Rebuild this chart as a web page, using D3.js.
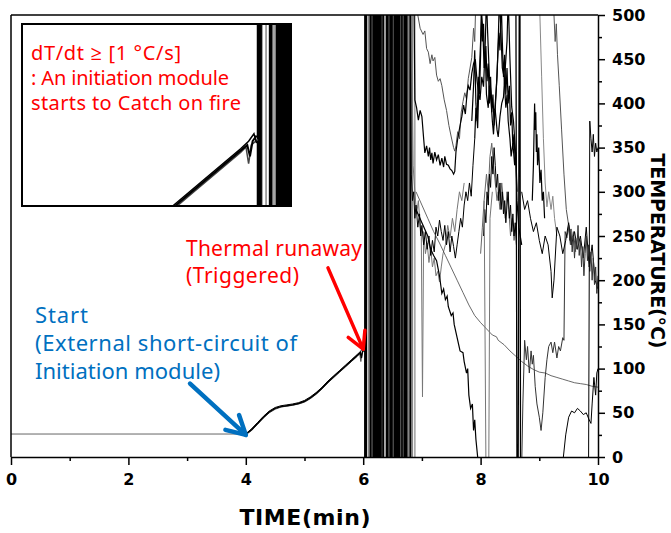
<!DOCTYPE html>
<html>
<head>
<meta charset="utf-8">
<script src="https://cdn.jsdelivr.net/npm/d3@7"></script>
<style>
  body { margin: 0; background: #fff; }
  .chart-holder svg { display: block; }
</style>
</head>
<body>
<div class="chart-holder"></div>
<script>
// temperature traces, [time (min), temperature (°C)]
const preTest = [[0, 26], [4, 26]];

const riseA = [[4.0, 26], [4.1, 31], [4.2, 38], [4.3, 45], [4.4, 51], [4.5, 55], [4.6, 57], [4.7, 58], [4.8, 59],
  [4.9, 60.5], [5.0, 63], [5.1, 67], [5.2, 72], [5.3, 78], [5.4, 85], [5.5, 91], [5.6, 97], [5.7, 103], [5.8, 109],
  [5.9, 115], [5.95, 118], [5.97, 112], [5.99, 120], [6.02, 123]];
const riseB = [[4.0, 25], [4.1, 30], [4.2, 37], [4.3, 44], [4.4, 50], [4.5, 54], [4.6, 56.5], [4.7, 57.5], [4.8, 58.5],
  [4.9, 60], [5.0, 62], [5.1, 66], [5.2, 71], [5.3, 77], [5.4, 84], [5.5, 90], [5.6, 96], [5.7, 102], [5.8, 108],
  [5.9, 114], [5.94, 117], [5.96, 108], [5.98, 118], [6.03, 121]];
const riseC = [[4.0, 26], [4.1, 32], [4.2, 39], [4.3, 46], [4.4, 52], [4.5, 56], [4.6, 58], [4.7, 59], [4.8, 60],
  [4.9, 61.5], [5.0, 64], [5.1, 68], [5.2, 73], [5.3, 79], [5.4, 86], [5.5, 92], [5.6, 98], [5.7, 104], [5.8, 110],
  [5.9, 116], [5.96, 120], [6.0, 124], [6.02, 119]];

// thermocouples swinging full scale after the trigger
const blackSpikeTimes = [6.03, 6.04, 6.05, 6.12, 6.13, 6.17, 6.18, 6.19, 6.2, 6.21, 6.22, 6.23, 6.24, 6.25, 6.26, 6.27,
  6.28, 6.3, 6.34, 6.4, 6.42, 6.46, 6.49, 6.53, 6.56, 6.57, 6.58, 6.59, 6.6, 6.61, 6.62, 6.66, 6.7, 6.72, 6.74, 6.8];
const graySpikeTimes = [6.06, 6.09, 6.15, 6.31, 6.33, 6.37, 6.45, 6.51, 6.55, 6.64, 6.68, 6.76, 6.77, 6.82, 6.84, 6.88];

const seriesA = [[6.9, 560], [6.93, 500], [6.97, 485], [7.02, 478], [7.05, 482], [7.08, 462], [7.11, 458], [7.14, 445],
  [7.17, 455], [7.19, 448], [7.22, 452], [7.25, 432], [7.28, 425], [7.31, 428], [7.34, 420], [7.38, 404], [7.42, 392],
  [7.46, 375], [7.5, 362], [7.54, 350], [7.56, 346], [7.58, 352], [7.61, 368], [7.64, 360], [7.67, 390], [7.7, 402],
  [7.73, 412], [7.76, 405], [7.79, 428], [7.82, 440], [7.85, 452], [7.88, 485], [7.9, 470], [7.92, 520], [7.95, 560]];
const seriesB = [[6.86, 560], [6.88, 404], [6.91, 395], [6.94, 381], [6.97, 392], [7.0, 385], [7.03, 360], [7.05, 344],
  [7.08, 352], [7.11, 340], [7.13, 350], [7.15, 336], [7.17, 344], [7.19, 332], [7.22, 345], [7.25, 336], [7.28, 342],
  [7.31, 330], [7.34, 338], [7.37, 328], [7.39, 340], [7.42, 331], [7.45, 330], [7.48, 326], [7.51, 324], [7.54, 320],
  [7.56, 323], [7.58, 345], [7.61, 360], [7.65, 375], [7.68, 385], [7.71, 398], [7.74, 388], [7.77, 412], [7.79, 420],
  [7.82, 415], [7.85, 434], [7.88, 445], [7.91, 450], [7.94, 425], [7.97, 410], [7.99, 404], [8.02, 430], [8.05, 419],
  [8.08, 470], [8.1, 520], [8.12, 480], [8.15, 430], [8.18, 410], [8.21, 395], [8.25, 392], [8.28, 370], [8.3, 362],
  [8.33, 385], [8.36, 400], [8.39, 407], [8.42, 440], [8.45, 470], [8.47, 520], [8.5, 450], [8.53, 396], [8.56, 380],
  [8.58, 360], [8.6, 340], [8.62, 290], [8.65, 260], [8.7, 240]];
const seriesL = [[7.85, 380], [7.88, 420], [7.9, 460], [7.92, 400], [7.95, 372], [7.97, 420], [8.0, 470], [8.02, 500],
  [8.04, 480], [8.06, 440], [8.08, 455], [8.1, 410], [8.13, 395], [8.15, 420], [8.18, 400], [8.2, 380], [8.22, 365],
  [8.25, 400], [8.28, 430], [8.3, 470], [8.32, 520], [8.34, 490], [8.37, 440], [8.4, 430], [8.43, 395], [8.45, 410],
  [8.47, 380], [8.5, 360], [8.52, 340], [8.55, 355], [8.58, 330], [8.6, 345], [8.62, 300]];
const seriesP = [[7.9, 360], [7.92, 395], [7.94, 380], [7.96, 430], [7.98, 410], [8.0, 455], [8.01, 500], [8.03, 470],
  [8.05, 490], [8.07, 440], [8.09, 465], [8.11, 425], [8.13, 445], [8.15, 400], [8.17, 430], [8.19, 390], [8.21, 410],
  [8.23, 375], [8.25, 395], [8.27, 420], [8.29, 450], [8.31, 480], [8.33, 460], [8.35, 520], [8.37, 470], [8.39, 430],
  [8.41, 455], [8.43, 410], [8.45, 440], [8.47, 400], [8.49, 420], [8.51, 375], [8.53, 390], [8.55, 350], [8.57, 365],
  [8.59, 330]];
const seriesM = [[8.0, 230], [8.03, 260], [8.06, 290], [8.1, 320], [8.13, 300], [8.16, 340], [8.19, 355], [8.22, 330],
  [8.25, 310], [8.28, 290], [8.3, 300], [8.33, 280], [8.36, 310], [8.39, 290], [8.42, 270], [8.45, 300], [8.48, 280],
  [8.51, 250], [8.54, 270], [8.57, 245], [8.6, 260]];
const seriesQ = [[8.05, 250], [8.07, 280], [8.09, 265], [8.11, 300], [8.13, 285], [8.15, 320], [8.17, 305], [8.19, 340],
  [8.21, 320], [8.23, 350], [8.25, 330], [8.27, 305], [8.29, 320], [8.31, 290], [8.33, 310], [8.35, 280], [8.37, 300],
  [8.39, 275], [8.41, 290], [8.43, 265], [8.45, 285], [8.47, 300], [8.49, 270], [8.51, 285], [8.53, 255], [8.55, 275],
  [8.57, 250], [8.59, 265], [8.61, 240]];
const seriesC = [[6.8, 560], [6.82, 320], [6.84, 290], [6.86, 300], [6.88, 270], [6.9, 285], [6.93, 260], [6.96, 275],
  [6.98, 250], [7.0, 262], [7.03, 240], [7.06, 255], [7.09, 235], [7.12, 250], [7.15, 228], [7.18, 245], [7.21, 232],
  [7.24, 260], [7.27, 250], [7.3, 268], [7.33, 255], [7.36, 245], [7.39, 262], [7.42, 240], [7.45, 255], [7.48, 232],
  [7.51, 250], [7.54, 238], [7.57, 225], [7.6, 240], [7.63, 255], [7.66, 270], [7.69, 260], [7.72, 285], [7.75, 300],
  [7.78, 290], [7.81, 310], [7.84, 295], [7.87, 330], [7.9, 360]];
const seriesC2 = [[6.82, 500], [6.85, 330], [6.88, 300], [6.91, 275], [6.94, 290], [6.97, 262], [6.99, 250], [7.01, 68],
  [7.03, 255], [7.06, 230], [7.09, 242], [7.12, 220], [7.15, 236], [7.18, 215], [7.21, 225], [7.24, 205], [7.27, 210],
  [7.3, 198], [7.33, 215], [7.36, 230], [7.4, 240], [7.44, 262], [7.48, 248], [7.52, 270], [7.56, 255], [7.6, 280],
  [7.64, 300], [7.68, 290], [7.72, 310]];
const coolingD = [[6.9, 300], [7.0, 285], [7.1, 270], [7.2, 255], [7.3, 242], [7.4, 228], [7.5, 214], [7.6, 200],
  [7.7, 186], [7.8, 172], [7.9, 160], [8.0, 152], [8.1, 145], [8.2, 138], [8.27, 136], [8.3, 132], [8.4, 127],
  [8.5, 120], [8.6, 114], [8.7, 108], [8.8, 103], [8.9, 99], [9.0, 96], [9.1, 95], [9.2, 92], [9.3, 90], [9.4, 88],
  [9.5, 86], [9.6, 84], [9.7, 83], [9.8, 82], [9.9, 80], [10.0, 79]];
const seriesE = [[6.9, 280], [7.0, 265], [7.1, 250], [7.15, 235], [7.2, 228], [7.25, 222], [7.3, 205], [7.34, 185],
  [7.37, 190], [7.4, 178], [7.43, 182], [7.45, 170], [7.5, 160], [7.53, 163], [7.55, 150], [7.6, 135], [7.65, 120],
  [7.7, 118], [7.72, 108], [7.76, 95], [7.78, 100], [7.8, 70], [7.83, 55], [7.86, 60], [7.88, 30], [7.9, 42],
  [7.92, 20], [7.95, 0], [7.97, -20]];
const grayDrop = [[8.06, 290], [8.09, 0], [8.12, -20], [8.14, 0], [8.16, 270], [8.2, 300]];
const seriesN = [[8.6, 560], [8.62, -20], [8.64, -20], [8.66, 560], [8.67, 560], [8.68, -20]];
const seriesF = [[8.7, -10], [8.72, 60], [8.75, 132], [8.78, 110], [8.8, 125], [8.83, 95], [8.86, 120], [8.88, 105],
  [8.9, 115], [8.93, 80], [8.96, 60], [9.0, 45], [9.03, 30], [9.06, 50], [9.1, 90], [9.13, 110], [9.16, 125],
  [9.2, 130], [9.23, 118], [9.26, 130], [9.3, 112], [9.33, 125], [9.36, 120], [9.4, 135], [9.42, 132], [9.44, 255],
  [9.47, 248], [9.5, 262], [9.53, 240]];
const seriesR = [[8.88, 290], [8.9, 330], [8.92, 400], [8.93, 370], [8.94, 390], [8.95, 345], [8.96, 365], [8.97, 330],
  [8.99, 350], [9.01, 310], [9.03, 325], [9.05, 290], [9.07, 300], [9.09, 270]];
const seriesI = [[8.98, 560], [9.01, 500], [9.04, 430], [9.07, 360], [9.1, 310], [9.13, 283], [9.16, 300], [9.2, 280],
  [9.23, 295], [9.26, 270], [9.3, 250]];
const seriesJ = [[9.22, 560], [9.25, 500], [9.27, 470], [9.29, 490], [9.31, 455], [9.34, 420], [9.38, 370], [9.42, 320],
  [9.46, 280], [9.5, 262], [9.54, 240], [9.58, 255], [9.62, 232]];
const seriesH = [[8.7, 300], [8.75, 280], [8.8, 290], [8.85, 270], [8.9, 255], [8.95, 265], [9.0, 245], [9.05, 230],
  [9.1, 250], [9.15, 240], [9.2, 210], [9.22, 180], [9.25, 200], [9.3, 260], [9.35, 250], [9.4, 230], [9.45, 245],
  [9.5, 265], [9.55, 240], [9.6, 255], [9.65, 235], [9.7, 250], [9.75, 225], [9.8, 260], [9.85, 215], [9.9, 240],
  [9.95, 200], [10.0, 190]];
const seriesH2 = [[9.5, 262], [9.52, 245], [9.54, 258], [9.56, 232], [9.58, 250], [9.6, 225], [9.62, 248], [9.64, 235],
  [9.66, 262], [9.68, 228], [9.7, 245], [9.72, 215], [9.74, 238], [9.76, 205], [9.78, 230], [9.8, 250], [9.82, 222],
  [9.84, 240], [9.86, 210], [9.88, 232], [9.9, 200], [9.92, 225], [9.94, 195], [9.96, 215], [9.98, 185], [10.0, 205]];
const seriesK = [[9.84, 0], [9.86, 380], [9.88, 360], [9.9, 345], [9.92, 365], [9.94, 340], [9.96, 355], [9.98, 345],
  [10.0, 350]];
const seriesG = [[9.41, 0], [9.45, 25], [9.5, 45], [9.55, 52], [9.6, 50], [9.65, 55], [9.7, 52], [9.75, 48], [9.8, 50],
  [9.85, 42], [9.88, 38], [9.9, 60], [9.93, 90], [9.96, 70], [9.98, 95], [10.0, 100]];

const xTicks = [0, 2, 4, 6, 8, 10];
const xMinorTicks = [1, 3, 5, 7, 9];
const yTicks = [0, 50, 100, 150, 200, 250, 300, 350, 400, 450, 500];
const yMinorTicks = [25, 75, 125, 175, 225, 275, 325, 375, 425, 475];

const insetNote = ["dT/dt \u2265 [1 \u00b0C/s]", ": An initiation module", "starts to Catch on fire"];
const runawayNote = ["Thermal runaway", "(Triggered)"];
const startNote = ["Start", "(External short-circuit of", "Initiation module)"];

const width = 671;
const height = 533;

const svg = d3.select(".chart-holder")
  .append("svg")
  .attr("width", width)
  .attr("height", height);

const x = d3.scaleLinear().domain([0, 10]).range([11, 598]);
const y = d3.scaleLinear().domain([0, 500]).range([457, 15]);

// full scale swing, built from the spike times
function spikes(times) {
  const out = [];
  times.forEach((t, i) => {
    const lo = -40, hi = 560;
    if (i % 2 === 0) { out.push([t, lo]); out.push([t + 0.001, hi]); }
    else { out.push([t, hi]); out.push([t + 0.001, lo]); }
  });
  return out;
}

const traces = [
  { d: preTest, c: "#666", w: 1 },
  { d: spikes(graySpikeTimes), c: "#888", w: 1.2 },
  { d: spikes(blackSpikeTimes), c: "#000", w: 1.8 },
  { d: riseB, c: "#555", w: 1 },
  { d: riseC, c: "#000", w: 1 },
  { d: riseA, c: "#000", w: 1.5 },
  { d: seriesC2, c: "#777", w: 1 },
  { d: seriesC, c: "#000", w: 1 },
  { d: seriesA, c: "#555", w: 1 },
  { d: seriesB, c: "#000", w: 1.2 },
  { d: seriesL, c: "#000", w: 1.2 },
  { d: seriesP, c: "#000", w: 1.2 },
  { d: seriesM, c: "#666", w: 1 },
  { d: seriesQ, c: "#000", w: 1 },
  { d: coolingD, c: "#444", w: 0.8 },
  { d: seriesE, c: "#000", w: 1.2 },
  { d: grayDrop, c: "#777", w: 1 },
  { d: seriesN, c: "#000", w: 1.3 },
  { d: seriesF, c: "#333", w: 1 },
  { d: seriesR, c: "#000", w: 1.2 },
  { d: seriesI, c: "#888", w: 1 },
  { d: seriesJ, c: "#555", w: 1 },
  { d: seriesH, c: "#000", w: 1 },
  { d: seriesH2, c: "#333", w: 1 },
  { d: seriesK, c: "#000", w: 1 },
  { d: seriesG, c: "#000", w: 1 }
];

const defs = svg.append("defs");
defs.append("clipPath").attr("id", "plot-clip")
  .append("rect").attr("x", 11).attr("y", 15).attr("width", 587).attr("height", 442);
defs.append("clipPath").attr("id", "inset-clip")
  .append("rect").attr("x", 23).attr("y", 25).attr("width", 267).attr("height", 180);

const line = d3.line().x(d => x(d[0])).y(d => y(d[1]));

svg.append("g")
  .attr("clip-path", "url(#plot-clip)")
  .selectAll("path")
  .data(traces)
  .join("path")
  .attr("d", d => line(d.d))
  .attr("fill", "none")
  .attr("stroke", d => d.c)
  .attr("stroke-width", d => d.w);

// frame and axes
svg.append("line").attr("x1", 11).attr("x2", 598).attr("y1", 15).attr("y2", 15)
  .attr("stroke", "#000").attr("stroke-width", 1.5);
svg.append("line").attr("x1", 11).attr("x2", 11).attr("y1", 15).attr("y2", 457)
  .attr("stroke", "#000").attr("stroke-width", 1.5);

const axisFont = "'DejaVu Sans', Verdana, sans-serif";

svg.append("g").attr("transform", `translate(0,${y(0)})`)
  .call(d3.axisBottom(x).tickValues(xTicks).tickSize(8).tickPadding(9).tickSizeOuter(0));
svg.append("g").attr("transform", `translate(0,${y(0)})`)
  .call(d3.axisBottom(x).tickValues(xMinorTicks).tickSize(4).tickFormat("").tickSizeOuter(0))
  .select(".domain").remove();

svg.append("g").attr("transform", `translate(${x(10)},0)`)
  .call(d3.axisRight(y).tickValues(yTicks).tickSize(7).tickPadding(7).tickSizeOuter(0));
svg.append("g").attr("transform", `translate(${x(10)},0)`)
  .call(d3.axisRight(y).tickValues(yMinorTicks).tickSize(4).tickFormat("").tickSizeOuter(0))
  .select(".domain").remove();

svg.selectAll(".domain, .tick line").attr("stroke", "#000").attr("stroke-width", 1.5);
svg.selectAll(".tick text")
  .attr("font-family", axisFont)
  .attr("font-weight", "bold")
  .attr("font-size", 16)
  .attr("fill", "#000");

svg.append("text")
  .attr("x", 305).attr("y", 525)
  .attr("text-anchor", "middle")
  .attr("font-family", axisFont).attr("font-weight", "bold").attr("font-size", 22)
  .attr("textLength", 131).attr("lengthAdjust", "spacing")
  .text("TIME(min)");

svg.append("text")
  .attr("transform", "translate(651,251) rotate(90)")
  .attr("text-anchor", "middle")
  .attr("font-family", axisFont).attr("font-weight", "bold").attr("font-size", 19)
  .attr("textLength", 195).attr("lengthAdjust", "spacing")
  .text("TEMPERATURE(\u00b0C)");

// zoomed inset around the trigger
const xi = d3.scaleLinear().domain([4.27, 6.27]).range([23, 290]);
const yi = d3.scaleLinear().domain([86, 182]).range([205, 25]);
const lineInset = d3.line().x(d => xi(d[0])).y(d => yi(d[1]));

svg.append("rect")
  .attr("x", 22).attr("y", 24).attr("width", 269).attr("height", 182)
  .attr("fill", "#fff");
svg.append("g")
  .attr("clip-path", "url(#inset-clip)")
  .selectAll("path")
  .data([
    { d: spikes(graySpikeTimes), c: "#888", w: 1.5 },
    { d: spikes(blackSpikeTimes), c: "#000", w: 2.5 },
    { d: riseB, c: "#444", w: 1.5 },
    { d: riseC, c: "#000", w: 1.5 },
    { d: riseA, c: "#000", w: 2 }
  ])
  .join("path")
  .attr("d", d => lineInset(d.d))
  .attr("fill", "none")
  .attr("stroke", d => d.c)
  .attr("stroke-width", d => d.w);
svg.append("rect")
  .attr("x", 22).attr("y", 24).attr("width", 269).attr("height", 182)
  .attr("fill", "none").attr("stroke", "#000").attr("stroke-width", 2);

const noteFont = "'Noto Sans', 'Open Sans', sans-serif";
const insetWidths = [150, 198, 210];
const runawayWidths = [176, 113];
const startWidths = [53, 262, 185];

svg.append("g").selectAll("text")
  .data(insetNote)
  .join("text")
  .attr("x", 31).attr("y", (d, i) => 60 + i * 25)
  .attr("font-family", noteFont).attr("font-size", 20).attr("fill", "#ff0000")
  .attr("textLength", (d, i) => insetWidths[i]).attr("lengthAdjust", "spacing")
  .text(d => d);

svg.append("g").selectAll("text")
  .data(runawayNote)
  .join("text")
  .attr("x", 186).attr("y", (d, i) => 256 + i * 27)
  .attr("font-family", noteFont).attr("font-size", 21).attr("fill", "#ff0000")
  .attr("textLength", (d, i) => runawayWidths[i]).attr("lengthAdjust", "spacing")
  .text(d => d);

svg.append("g").selectAll("text")
  .data(startNote)
  .join("text")
  .attr("x", 35).attr("y", (d, i) => 323 + i * 28)
  .attr("font-family", noteFont).attr("font-size", 22).attr("fill", "#0070c0")
  .attr("textLength", (d, i) => startWidths[i]).attr("lengthAdjust", "spacing")
  .text(d => d);

function arrow(x1, y1, x2, y2, color, w, head) {
  const a = Math.atan2(y2 - y1, x2 - x1);
  const p1 = [x2 - head * Math.cos(a - 0.5), y2 - head * Math.sin(a - 0.5)];
  const p2 = [x2 - head * Math.cos(a + 0.5), y2 - head * Math.sin(a + 0.5)];
  const g = svg.append("g").attr("stroke", color).attr("stroke-width", w)
    .attr("fill", "none").attr("stroke-linecap", "round").attr("stroke-linejoin", "round");
  g.append("line").attr("x1", x1).attr("y1", y1).attr("x2", x2).attr("y2", y2);
  g.append("polyline").attr("points", [p1, [x2, y2], p2].map(p => p.join(",")).join(" "));
}

// arrows point at the start and trigger points of the trace
arrow(x(5.4), y(214), x(6.0), y(122), "#ff0000", 3.5, 19);
arrow(x(3.05), y(83), x(4.0), y(25), "#0070c0", 4.5, 21);
</script>
</body>
</html>
